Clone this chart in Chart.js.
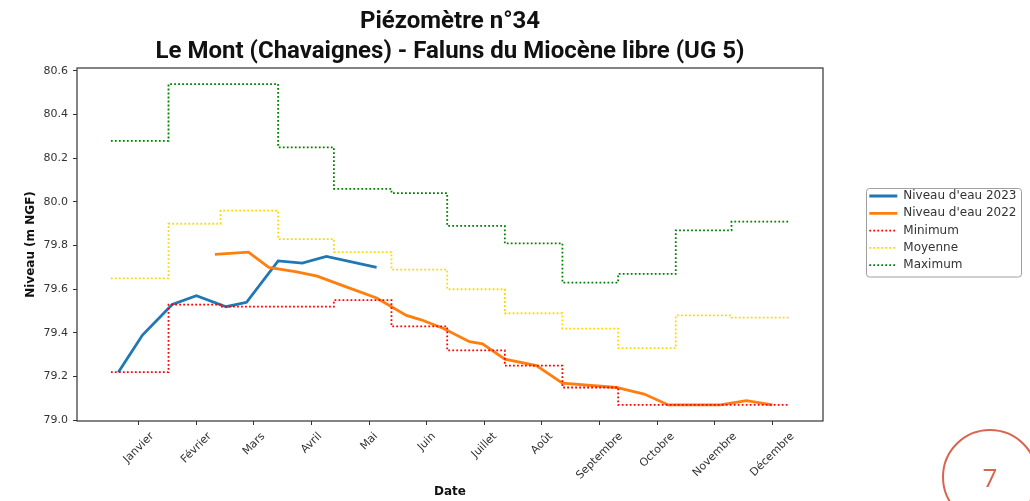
<!DOCTYPE html>
<html>
<head>
<meta charset="utf-8">
<script src="https://cdn.jsdelivr.net/npm/chart.js@4/dist/chart.umd.min.js"></script>
<style>
  html, body { margin: 0; padding: 0; background: #ffffff; overflow: hidden; }
  #wrap { position: relative; width: 1030px; height: 501px; overflow: hidden; }
  #c { position: absolute; left: 0; top: 0; }
  #pageCircle { position: absolute; left: 942px; top: 429px; width: 96px; height: 96px; box-sizing: border-box;
    border: 2.5px solid #d9644f; border-radius: 50%; }
  #pageNum { position: absolute; left: 970px; top: 461px; width: 40px; text-align: center;
    font-family: "Open Sans", sans-serif; font-weight: 400; font-size: 26px; line-height: 32px; color: #d9644f; }
</style>
</head>
<body>
<div id="wrap">
  <canvas id="c" width="1030" height="501"></canvas>
  <div id="pageCircle"></div>
  <div id="pageNum">7</div>
</div>
<script>
// ---- data (x in days since 1 January) ----
const titleLines = ["Piézomètre n°34", "Le Mont (Chavaignes) - Faluns du Miocène libre (UG 5)"];
const monthLabels = ["Janvier", "Février", "Mars", "Avril", "Mai", "Juin", "Juillet", "Août", "Septembre", "Octobre", "Novembre", "Décembre"];
const xTickDays = [15, 46, 77, 108, 139, 170, 201, 232, 263, 294, 325, 356];
const yTickValues = [79.0, 79.2, 79.4, 79.6, 79.8, 80.0, 80.2, 80.4, 80.6];

const monthStartDays = [0, 31, 59, 90, 120, 151, 181, 212, 243, 273, 304, 334, 365];
const minimumValues = [79.22, 79.53, 79.52, 79.52, 79.55, 79.43, 79.32, 79.25, 79.15, 79.07, 79.07, 79.07];
const moyenneValues = [79.65, 79.90, 79.96, 79.83, 79.77, 79.69, 79.60, 79.49, 79.42, 79.33, 79.48, 79.47];
const maximumValues = [80.28, 80.54, 80.54, 80.25, 80.06, 80.04, 79.89, 79.81, 79.63, 79.67, 79.87, 79.91];

const days2023 = [4, 17, 33, 46, 62, 73, 90, 103, 116, 143];
const niveau2023 = [79.22, 79.39, 79.53, 79.57, 79.52, 79.54, 79.73, 79.72, 79.75, 79.70];

const days2022 = [56, 74, 85, 100, 111, 127, 143, 159, 167, 179, 193, 200, 212, 229, 243, 272, 287, 300, 328, 342, 356];
const niveau2022 = [79.76, 79.77, 79.70, 79.68, 79.66, 79.61, 79.56, 79.48, 79.46, 79.42, 79.36, 79.35, 79.28, 79.25, 79.17, 79.15, 79.12, 79.07, 79.07, 79.09, 79.07];

// ---- helpers ----
function pts(xs, ys) { return xs.map((x, i) => ({ x: x, y: ys[i] })); }
function stepPts(vals) {
  const ys = vals.concat([vals[vals.length - 1]]);
  return monthStartDays.map((x, i) => ({ x: x, y: ys[i] }));
}

Chart.defaults.font.family = "'DejaVu Sans', sans-serif";
Chart.defaults.color = '#333';

const framePlugin = {
  id: 'framePlugin',
  afterLayout(chart) {
    const lg = chart.legend;
    if (lg) {
      const w = lg.width;
      lg.left = 864; lg.right = 864 + w;
      lg.top = 184.7; lg.bottom = 421;
    }
  },
  afterDraw(chart) {
    const ctx = chart.ctx;
    const a = chart.chartArea;
    ctx.save();
    ctx.strokeStyle = '#333';
    ctx.lineWidth = 1.2;
    ctx.strokeRect(a.left, a.top, a.right - a.left, a.bottom - a.top);
    ctx.strokeStyle = '#a0a0a0';
    ctx.lineWidth = 1;
    ctx.beginPath();
    if (ctx.roundRect) ctx.roundRect(866.5, 188.5, 155, 88.5, 3); else ctx.rect(866.5, 188.5, 155, 88.5);
    ctx.stroke();
    const xs = chart.scales.x;
    ctx.font = "11px 'DejaVu Sans', sans-serif";
    ctx.fillStyle = '#333';
    ctx.textAlign = 'center';
    ctx.textBaseline = 'middle';
    const ang = Math.PI / 4;
    const y0 = a.bottom + 9;
    xTickDays.forEach((d, i) => {
      const px = xs.getPixelForValue(d);
      const w = ctx.measureText(monthLabels[i]).width;
      const h = 13;
      const hy = (w * Math.sin(ang) + h * Math.cos(ang)) / 2;
      ctx.save();
      ctx.translate(px, y0 + hy);
      ctx.rotate(-ang);
      ctx.fillText(monthLabels[i], 0, 0);
      ctx.restore();
    });
    ctx.restore();
  }
};

const dotted = [1.8, 2.2];

new Chart(document.getElementById('c'), {
  type: 'line',
  data: {
    datasets: [
      { label: "Niveau d'eau 2023", data: pts(days2023, niveau2023), borderColor: '#1f77b4', backgroundColor: '#1f77b4', borderWidth: 2.8, order: 5 },
      { label: "Niveau d'eau 2022", data: pts(days2022, niveau2022), borderColor: '#ff7f0e', backgroundColor: '#ff7f0e', borderWidth: 2.8, order: 4 },
      { label: 'Minimum', data: stepPts(minimumValues), stepped: 'before', borderColor: '#ff0000', backgroundColor: '#ff0000', borderWidth: 1.8, borderDash: dotted, order: 3 },
      { label: 'Moyenne', data: stepPts(moyenneValues), stepped: 'before', borderColor: '#ffd700', backgroundColor: '#ffd700', borderWidth: 1.8, borderDash: dotted, order: 2 },
      { label: 'Maximum', data: stepPts(maximumValues), stepped: 'before', borderColor: '#008000', backgroundColor: '#008000', borderWidth: 1.8, borderDash: dotted, order: 1 }
    ]
  },
  options: {
    responsive: false,
    animation: false,
    devicePixelRatio: 1,
    events: [],
    layout: { padding: { top: 7, right: 207, bottom: 0, left: 0 } },
    elements: { point: { radius: 0 }, line: { tension: 0, fill: false, borderCapStyle: 'butt' } },
    plugins: {
      title: {
        display: true,
        text: titleLines,
        fullSize: false,
        color: '#111',
        font: { family: "'Roboto', sans-serif", size: 24, weight: 'bold', lineHeight: 30 / 24 },
        padding: { top: 0, bottom: 1 }
      },
      legend: {
        display: true,
        position: 'chartArea',
        align: 'start',
        labels: {
          usePointStyle: true,
          pointStyle: 'line',
          pointStyleWidth: 28,
          padding: 5.3,
          color: '#333',
          font: { size: 12 },
          sort: (a, b) => a.datasetIndex - b.datasetIndex,
          generateLabels: (chart) => {
            const items = Chart.defaults.plugins.legend.labels.generateLabels(chart);
            items.forEach(it => {
              const ds = chart.data.datasets[it.datasetIndex];
              it.lineDash = ds.borderDash || [];
              it.lineWidth = ds.borderWidth;
              it.strokeStyle = ds.borderColor;
              it.fillStyle = 'rgba(0,0,0,0)';
              it.lineCap = 'butt';
            });
            return items;
          }
        }
      },
      tooltip: { enabled: false }
    },
    scales: {
      x: {
        type: 'linear',
        min: -18.25,
        max: 383.25,
        afterBuildTicks: (s) => { s.ticks = xTickDays.map(v => ({ value: v })); },
        afterFit: (s) => { s.height = 80; },
        ticks: { display: false },
        grid: { display: true, drawOnChartArea: false, drawTicks: true, tickLength: 4, color: '#333', lineWidth: 1 },
        border: { display: false },
        title: { display: true, text: 'Date', color: '#111', font: { size: 12, weight: 'bold', lineHeight: 1.2 }, padding: { top: 0, bottom: 1.8 } }
      },
      y: {
        type: 'linear',
        min: 78.9965,
        max: 80.6135,
        afterBuildTicks: (s) => { s.ticks = yTickValues.map(v => ({ value: v })); },
        afterFit: (s) => { s.width = 77; },
        ticks: { color: '#333', font: { size: 11 }, padding: 5, callback: (v) => Number(v).toFixed(1) },
        grid: { display: true, drawOnChartArea: false, drawTicks: true, tickLength: 4, color: '#333', lineWidth: 1 },
        border: { display: false },
        title: { display: true, text: 'Niveau (m NGF)', color: '#111', font: { size: 12, weight: 'bold', lineHeight: 1.2 }, padding: { top: 23.8, bottom: 0 } }
      }
    }
  },
  plugins: [framePlugin]
});
</script>
</body>
</html>
